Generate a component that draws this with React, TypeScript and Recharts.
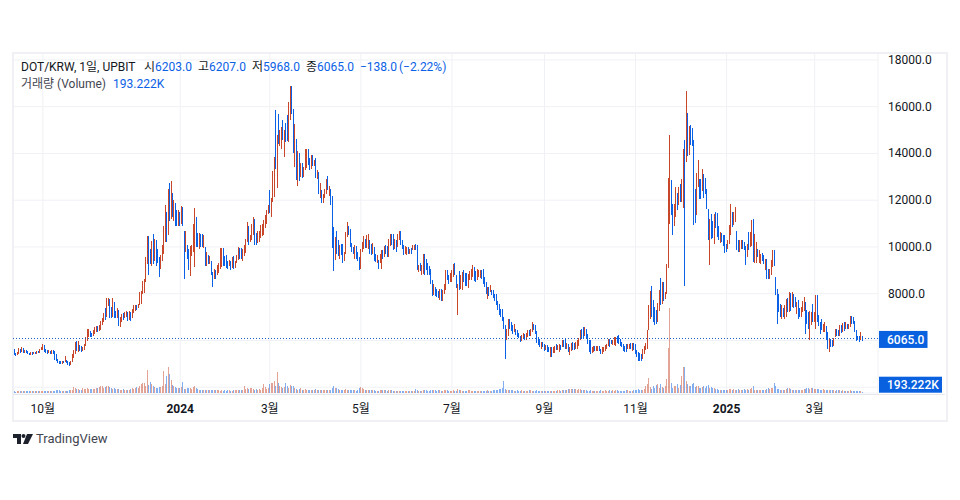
import React from "react";
import { ComposedChart, Bar, XAxis, YAxis, CartesianGrid, ReferenceLine } from "recharts";

const closes = [
5620,5430,5400,5450,5600,5520,5650,5500,5560,5500,
5440,5400,5460,5420,5480,5440,5520,5500,5560,5620,
5780,5620,5560,5480,5540,5460,5520,5500,5400,5200,
5110,5050,4990,5080,5060,5160,5120,5040,4990,5070,
5300,5480,5900,5650,5780,5620,5550,5600,5820,6040,
6260,6400,6330,6200,6360,6460,6530,6460,6560,6660,
6800,7100,7020,7500,7780,7380,7050,7680,7300,7150,
7340,6800,6820,7030,7020,7100,7140,7060,7150,6980,
7260,7400,7420,7380,7480,7600,8000,8090,8580,9350,
10300,9700,9400,10200,9500,10280,9800,9600,9300,9550,
9800,10400,11400,10700,12300,11500,12650,11420,11800,11100,
10950,11500,11150,11600,11070,9500,9900,9600,9100,9700,
9900,10800,11300,10200,10050,10200,10100,10050,10100,9400,
9600,9300,9500,8950,8800,9000,8800,9100,9200,9400,
9700,9500,9300,9250,9200,9300,9100,9300,9150,9200,
9500,9850,9700,9600,9700,9850,10000,10850,10300,10400,
10600,11100,10500,10200,10300,10500,10650,10700,10850,11100,
11500,11700,11500,11900,13100,13700,13400,14700,14500,14900,
15100,14600,14900,14800,14550,15900,16700,15750,14100,15200,
13600,13900,13000,13300,13050,13350,13700,14100,13800,13700,
13900,13500,13700,13000,13200,12350,12600,11950,12100,12300,
12800,12450,12500,11850,10050,9900,10300,9800,9700,9750,
9650,9400,9600,10400,10800,10700,10150,10050,9860,9990,
9600,9550,9100,9900,9950,10400,10100,10250,10500,10050,
9800,10000,9600,9450,9500,9350,9500,9750,9600,9980,
9900,9600,10300,10500,10350,10000,10200,10050,10300,10650,
10200,10050,9800,9900,9950,9800,9870,9830,9980,10050,
9900,9100,9200,9050,9200,9650,9400,9100,9050,8900,
8500,8000,8300,8150,8050,7900,8200,7950,8100,8400,
9000,8700,8650,8750,9000,9200,8900,8300,8400,8300,
8700,8900,8700,8550,8500,8800,8900,9000,9150,8700,
8650,8850,8950,9000,8680,8500,8350,8100,8200,8000,
8250,8000,7950,7900,7600,7450,7200,7100,7050,6650,
6300,6500,6850,6600,6580,6300,6600,6350,6250,6180,
6050,6150,6250,6150,6280,6350,6250,6420,6700,6500,
6400,6100,5950,5800,5900,5750,5680,5750,5650,5600,
5650,5500,5620,5720,5650,5700,5780,5700,5950,5800,
5700,5820,5550,5650,5780,5700,5650,5850,5950,6000,
6350,6250,6150,6450,6200,5950,5700,5500,5650,5720,
5600,5680,5720,5650,5500,5640,5700,5780,5800,6000,
5950,5850,5900,6050,6100,5950,5900,5800,5750,5700,
5600,5550,5720,5800,5780,5880,5650,5550,5400,5350,
5250,5200,5550,5700,5850,6300,7200,7750,7350,7150,
7000,6900,7400,8000,7600,8100,7950,8000,9280,12000,
12800,11400,11050,11800,12200,11700,12300,12000,12800,14100,
13700,15900,14000,15000,14600,14400,11700,11300,13100,13200,
12700,12500,13200,12800,12700,11700,10400,11100,10600,10500,
11350,10900,10600,10400,10500,10350,10150,10100,9900,10200,
10800,11700,11000,11400,11600,9900,9850,10000,10250,10000,
9900,9300,10050,10000,10550,11050,9400,9700,10100,9600,
9650,9700,9500,9350,9450,8800,8700,8900,9400,9800,
9200,8050,7800,7250,7100,7450,7100,7400,7700,7500,
8000,7400,8000,7600,7500,7600,7250,7100,7400,7600,
7800,7000,6900,6800,7050,7180,6900,7050,7850,6900,
6800,6700,6500,6600,6650,6100,5900,6050,5950,5800,
6000,6450,6350,6250,6600,6550,6700,6650,6750,6600,
6650,6950,6900,6750,6400,6100,6050,6000,6203,6065,
];

const highs = [
5660,5640,5470,5500,5680,5640,5720,5680,5600,5600,
5540,5480,5500,5520,5520,5500,5560,5560,5640,5700,
5830,5800,5640,5580,5590,5560,5580,5580,5540,5420,
5200,5130,5100,5120,5130,5320,5180,5120,5060,5130,
5420,5580,5950,5990,5980,5800,5750,5700,5860,6140,
6500,6500,6420,6330,6440,6570,6620,6620,6680,6820,
6950,7190,7400,7820,7830,7780,7420,7800,7640,7250,
7380,7320,7020,7120,7170,7230,7260,7220,7260,7220,
7340,7500,7520,7530,7560,8090,8130,8540,8620,9550,
10460,10470,9900,10240,10560,10360,10300,9900,9550,9650,
10100,10900,11800,11500,12470,12750,12800,12300,12000,11900,
11600,11560,11500,11750,11700,10700,10700,10080,9900,10050,
10100,11000,11680,11300,10600,10600,10550,10560,10500,10000,
9780,9640,9620,9400,8920,9060,9000,9220,9300,9950,
9950,9950,9600,9650,9400,9450,9400,9550,9600,9400,
9650,10000,9950,9950,9900,10100,10350,11060,10900,10500,
11000,11290,11200,10600,10700,10700,10950,11000,11150,11350,
11590,11800,12420,12100,13250,13850,15840,14770,15700,15000,
15130,15410,14990,15300,15630,16200,16870,16870,15915,15270,
14630,14100,14020,13600,13600,13420,14200,14200,14200,13800,
13950,13950,13720,13820,13300,13200,12720,12420,12250,12480,
12920,13020,12600,12490,12160,10850,10420,10700,10280,10100,
10130,10130,9800,10640,11060,10900,10780,10150,10000,10100,
10020,9800,9570,9900,10200,10450,10350,10500,10550,10280,
10130,10150,10000,9680,9650,9450,9700,9850,9850,10060,
10100,10060,10350,10560,10550,10560,10350,10280,10550,10700,
10700,10300,10070,10050,10000,10000,9920,9950,10070,10100,
10140,10100,9220,9300,9210,9700,9700,9500,9300,9200,
9070,8570,8420,8300,8220,8100,8220,8200,8150,8430,
9000,9000,8800,8900,9000,9280,9300,8780,8420,8970,
8800,8930,9000,8880,8900,8850,8950,9050,9210,9140,
8950,9060,9000,9000,9000,9070,8700,8500,8280,8300,
8360,8170,8150,8000,8000,7700,7570,7350,7350,7000,
6640,6500,6930,6930,6800,6640,6710,6500,6450,6300,
6210,6250,6300,6290,6300,6430,6430,6500,6790,6700,
6650,6420,6130,6050,5950,5950,5850,5800,5790,5700,
5720,5700,5710,5760,5830,5800,5830,5800,6000,6000,
6110,5900,5830,5720,5890,5930,5900,5950,6000,6100,
6430,6500,6570,6570,6500,6280,6000,6000,5720,5750,
5760,5780,5760,5750,5640,5700,5730,5800,5850,6050,
6070,6000,6000,6140,6140,6200,6240,6060,5950,5850,
5760,5860,5860,5860,5900,5900,5880,5860,5600,5500,
5450,5400,5640,5780,5900,6430,7500,8110,8310,7710,
7430,7300,7600,8140,8680,8500,8500,8070,9280,12950,
14770,12880,11820,11830,12560,12300,12560,12700,12920,14200,
14560,16660,15740,15160,15200,15100,14560,12460,13180,13700,
12920,12900,13320,13100,12960,12490,11640,11210,11420,11100,
11420,11500,11460,10900,10650,10600,10490,10490,10140,10300,
10920,11820,11490,11500,11700,10680,10280,10280,10300,10300,
10200,10060,10140,10640,10650,11140,11180,10560,10207,9920,
9852,9710,9720,9640,9500,9500,9060,9060,9450,9852,
9852,8710,8210,8000,7570,7500,7400,7500,7780,7800,
8070,8030,8070,8000,7850,7640,7710,7400,7430,7700,
7850,7640,7300,7200,7280,7210,7570,7200,7930,7930,
7100,6780,6930,6700,6780,6600,6350,6070,6070,6000,
6100,6500,6500,6430,6640,6650,6740,6780,6800,6700,
6700,7030,7030,7000,6850,6430,6200,6200,6360,6207,
];

const lows = [
5360,5390,5340,5380,5440,5470,5500,5460,5470,5480,
5400,5360,5390,5380,5400,5410,5440,5480,5480,5580,
5580,5520,5480,5420,5450,5420,5440,5440,5180,5130,
5030,4990,4980,4990,5040,5060,5020,4960,4910,4950,
5060,5230,5420,5560,5520,5540,5520,5530,5580,5780,
5970,6150,6160,6150,6170,6280,6380,6380,6410,6430,
6640,6780,6860,7000,7460,6960,6980,7020,6950,6980,
6980,6600,6590,6780,6880,6950,7000,6850,6880,6830,
6980,7170,7240,7300,7370,7520,7560,7970,8010,8490,
9250,8800,9280,9200,9250,9410,9200,9320,8700,9050,
9400,9700,10200,10200,10500,11100,11200,11300,11100,10900,
10900,10900,10900,11000,10900,8640,9780,9500,9000,8740,
9600,9800,9140,10000,10000,9900,10000,10000,9950,9200,
9200,9280,9270,8800,8280,8650,8650,8800,8900,9050,
9150,9200,9200,9100,9050,9170,9000,9100,9050,9080,
9300,9450,9500,9500,9400,9600,9750,10200,10100,10200,
10300,10500,10100,10100,10150,10200,10400,10450,10500,10800,
10990,11400,11450,11300,11920,12130,13350,12520,14420,14300,
14200,14560,13850,14500,14520,14500,15410,15700,14000,13420,
12850,12590,12820,13000,12950,12990,13300,13390,13500,13300,
13350,13480,13480,12950,12900,12280,12100,11880,11900,12080,
12280,12420,12200,11780,9950,8990,9450,9700,9600,9500,
9640,9310,9400,9700,10420,10500,10000,9800,9700,9500,
9500,9400,9000,9060,9800,9900,9950,9950,9930,9710,
9640,9700,9420,9350,9300,9070,9300,9060,9500,9570,
9700,9570,9570,10060,10100,9850,9900,9780,10000,10280,
10100,9900,9640,9700,9640,9700,9710,9700,9850,9850,
9850,9000,8920,8950,8780,8850,8780,9000,8800,8800,
8420,7900,7950,7900,7860,7800,7710,7700,7670,8000,
8140,8570,8400,8500,8500,8710,8800,8250,7070,8140,
8200,8140,8500,8350,8350,8250,8600,8570,8710,8560,
8500,8570,8700,8680,8640,8420,8300,8000,7780,7900,
8070,7930,7800,7700,7500,7300,7070,7000,6850,6500,
5210,6000,6210,6500,6400,6280,6350,6220,6150,6100,
5930,5990,6060,6000,6030,6150,6200,6200,6350,6450,
6290,5900,5800,5720,5640,5700,5570,5600,5500,5500,
5310,5300,5450,5450,5600,5600,5500,5600,5720,5700,
5650,5640,5500,5360,5570,5600,5600,5650,5640,5750,
6000,6050,6070,6200,6100,5860,5500,5430,5450,5500,
5550,5550,5570,5560,5430,5410,5500,5550,5620,5780,
5710,5830,5800,5800,5780,5900,5860,5780,5720,5570,
5500,5500,5650,5640,5650,5560,5600,5430,5300,5100,
5110,5130,5200,5430,5600,5640,6430,6930,7000,6780,
6640,6700,6800,7280,7500,7570,7700,7780,8000,9100,
10990,11350,10490,10900,11280,11600,11780,11920,11920,11660,
8350,13630,13870,13920,14370,14300,10920,11040,11380,12560,
12060,12060,12380,12100,12280,11630,10280,9210,10350,10400,
10140,10800,10420,10300,10150,10200,10060,9740,9780,9900,
10140,10490,10850,10950,11060,9850,9800,9800,9900,9920,
9850,9210,9560,9850,10000,10060,9350,9320,9310,9560,
9310,9280,9400,9280,9000,8640,8640,8640,8780,9130,
9170,7930,6710,7210,7000,6930,7000,6930,7000,7200,
7210,7260,7430,7400,7430,7140,6930,7000,7000,7200,
7280,6280,6700,6500,6000,6640,6780,6800,6500,6780,
6600,6280,6430,6350,6350,6000,5640,5500,5700,5700,
5750,6140,6200,6210,6210,6300,6350,6400,6500,6500,
6500,6570,6700,6720,6350,5970,6000,5930,6000,5968,
];

// volume in thousands
const volumes = [
260,280,220,300,260,280,300,240,260,300,
280,300,260,280,240,260,300,280,260,300,
340,280,260,300,240,260,280,240,320,420,
480,420,360,300,260,340,300,360,420,380,
520,900,700,560,620,480,520,760,640,600,
780,640,560,600,660,580,760,700,900,980,
1000,820,900,1040,1000,840,760,620,700,540,
620,540,500,480,560,520,500,480,520,560,
720,620,700,860,820,1040,1300,1480,1500,1100,
3500,1200,1700,1300,980,840,760,820,960,920,
1000,3300,1400,2500,3900,2900,2000,1240,1100,900,
760,800,700,880,1700,640,560,700,760,820,
600,900,1000,760,640,520,500,460,420,460,
420,440,500,460,520,420,400,440,480,360,
380,340,400,360,440,420,360,340,380,400,
460,380,420,500,460,1000,620,700,560,780,
820,640,520,620,520,620,460,780,1300,900,
640,700,1300,1450,1550,1750,1100,3100,1480,1000,
900,800,900,1500,1100,800,1250,1050,1100,720,
600,520,620,700,480,520,560,440,500,480,
460,420,500,540,420,500,420,460,380,420,
480,400,440,460,800,1000,800,700,600,500,
480,420,500,560,460,480,420,400,440,420,
360,380,800,900,700,620,480,440,420,380,
400,380,420,300,340,360,420,500,420,400,
380,360,420,400,380,340,320,340,360,300,
340,320,300,340,360,280,320,340,300,320,
560,380,340,300,320,480,380,400,340,300,
420,520,420,380,340,460,400,340,360,420,
440,380,340,300,360,420,360,340,540,420,
380,360,340,320,360,380,420,360,340,360,
340,360,320,340,360,320,340,360,380,320,
340,360,380,400,420,480,540,600,700,1800,
620,480,520,420,380,400,360,340,380,360,
340,380,360,300,320,340,380,420,360,340,
360,400,320,300,340,280,320,340,300,260,
340,300,320,360,340,420,380,360,420,400,
500,440,540,560,600,620,620,540,460,620,
640,500,420,380,400,360,340,380,340,360,
320,340,360,320,380,300,340,400,340,360,
420,360,380,340,460,400,340,320,360,300,
340,420,380,340,360,320,460,380,420,560,
480,420,520,620,1000,1300,2250,900,600,1000,
700,1200,1300,800,1400,900,700,1000,2100,6700,
12750,1500,800,1000,1100,1300,800,1200,2500,3900,
3900,1800,1300,1100,1000,1300,1500,900,1100,1000,
800,700,900,1000,800,1100,1200,800,900,700,
700,620,540,500,460,480,520,440,500,420,
540,620,480,560,520,500,600,460,420,520,
540,480,560,500,620,700,1050,520,480,400,
380,460,400,420,520,640,700,620,800,780,
1500,1100,620,540,460,420,400,500,620,760,
720,560,480,440,520,420,380,440,500,480,
540,640,700,760,660,700,760,640,620,600,
560,500,460,540,520,420,460,420,400,380,
420,360,400,380,420,340,380,360,340,320,
360,380,340,300,320,280,300,260,240,193.222,
];

const firstOpen = 5600;
const priceTicks = [4000, 6000, 8000, 10000, 12000, 14000, 16000, 18000];
const hiddenPriceTicks = [4000, 6000];
const timeTickIndex = [20, 112, 172, 233, 294, 356, 417, 478, 537];
const timeTickLabels = ["10월", "2024", "3월", "5월", "7월", "9월", "11월", "2025", "3월"];
const boldTimeLabels = ["2024", "2025"];
const lastPrice = 6065;
const lastVolume = 193.222;

const UP = "#c8472b";
const DOWN = "#0a61e6";
const TAG = "#0a61e0";
const FONT = 'Roboto, "Noto Sans CJK KR", sans-serif';
const INK = "#131722";
const XMAX = 579.4;
const PRICE_DOMAIN = [3752, 18297];
const VOL_DOMAIN = [0, 51000];

const data = closes.map((c, i) => {
  const h = highs[i];
  const l = lows[i];
  const prev = i === 0 ? firstOpen : closes[i - 1];
  const o = Math.min(h, Math.max(l, prev));
  return { i, o, h, l, c: Math.min(h, Math.max(l, c)), v: volumes[i] };
});

const Candle = (p: any) => {
  const { x, y, width, height, payload } = p;
  const { o, c } = payload;
  const col = c >= o ? UP : DOWN;
  const px = Math.round(x + width / 2 - 0.5);
  return <rect x={px} y={y} width={1} height={Math.max(1, height)} fill={col} shapeRendering="crispEdges" />;
};

const VolBar = (p: any) => {
  const { x, y, width, height, payload } = p;
  const col = payload.c >= payload.o ? UP : DOWN;
  const px = Math.round(x + width / 2 - 0.5);
  return <rect x={px} y={y} width={1} height={Math.max(1, height)} fill={col} fillOpacity={0.5} shapeRendering="crispEdges" />;
};

const PriceTick = (p: any) => {
  const { x, y, payload } = p;
  if (hiddenPriceTicks.includes(payload.value)) return null;
  return (
    <text x={x + 2} y={y + 4} fontFamily={FONT} fontSize={12} fill={INK}>
      {payload.value.toFixed(1)}
    </text>
  );
};

const TimeTick = (p: any) => {
  const { x, y, payload } = p;
  const label = timeTickLabels[timeTickIndex.indexOf(payload.value)];
  return (
    <text x={x} y={y + 12} textAnchor="middle" fontFamily={FONT} fontSize={12} fill={INK}
      fontWeight={boldTimeLabels.includes(label) ? 700 : 400}>
      {label}
    </text>
  );
};

const PriceTag = (p: any) => {
  const { viewBox } = p;
  const rx = viewBox.x + viewBox.width;
  return (
    <g>
      <rect x={rx + 1} y={viewBox.y - 8} width={48.5} height={17} fill={TAG} />
      <text x={rx + 9} y={viewBox.y + 5} fontFamily={FONT} fontSize={12} fontWeight={500} fill="#fff">
        {lastPrice.toFixed(1)}
      </text>
    </g>
  );
};

const VolumeTag = (p: any) => {
  const { viewBox } = p;
  const rx = viewBox.x + viewBox.width;
  return (
    <g>
      <rect x={rx + 1} y={viewBox.y - 15} width={63} height={16} fill={TAG} />
      <text x={rx + 9} y={viewBox.y - 3} fontFamily={FONT} fontSize={12} fontWeight={500} fill="#fff">
        {lastVolume.toFixed(3)}K
      </text>
    </g>
  );
};

const legendInk: React.CSSProperties = { position: "absolute", color: INK, whiteSpace: "pre" };
const legendBlue: React.CSSProperties = { position: "absolute", color: "#0a61e6", whiteSpace: "pre" };

export default function App() {
  return (
    <div style={{ position: "absolute", left: 0, top: 0, width: 960, height: 500, background: "#fff", overflow: "hidden", fontFamily: FONT, fontSize: 12 }}>
      <div style={{ position: "absolute", left: 12, top: 52, width: 932, height: 366, border: "2px solid #eef0f4" }} />
      <div style={{ position: "absolute", left: 13, top: 394, width: 932, height: 1, background: "#e6e8ee" }} />
      <ComposedChart
        width={960}
        height={500}
        data={data}
        margin={{ top: 53, right: 12, bottom: 78, left: 13 }}
        style={{ position: "absolute", left: 0, top: 0 }}
      >
        <CartesianGrid stroke="#f0f1f5" strokeWidth={1} />
        <XAxis dataKey="i" type="number" domain={[0, XMAX]} allowDataOverflow ticks={timeTickIndex} height={29}
          axisLine={false} tickLine={false} tick={<TimeTick />} interval={0} />
        <XAxis xAxisId="v" dataKey="i" type="number" domain={[0, XMAX]} allowDataOverflow hide />
        <YAxis orientation="right" domain={PRICE_DOMAIN} allowDataOverflow ticks={priceTicks} width={70}
          axisLine={false} tickLine={false} tick={<PriceTick />} interval={0} />
        <YAxis yAxisId="v" domain={VOL_DOMAIN} allowDataOverflow hide />
        <Bar xAxisId="v" yAxisId="v" dataKey="v" barSize={1} shape={<VolBar />} isAnimationActive={false} />
        <Bar dataKey={(d: any) => [d.l, d.h]} barSize={1} shape={<Candle />} isAnimationActive={false} />
        <ReferenceLine y={lastPrice} stroke="#1a5fc8" strokeWidth={1} strokeDasharray="1 2" shapeRendering="crispEdges" label={<PriceTag />} />
        <ReferenceLine xAxisId="v" yAxisId="v" y={lastVolume} stroke="none" label={<VolumeTag />} />
      </ComposedChart>

      <div style={{ position: "absolute", left: 0, top: 0, width: 960, height: 100, lineHeight: "14px" }}>
        <span style={{ ...legendInk, left: 21, top: 60 }}>DOT/KRW, 1일, UPBIT</span>
        <span style={{ ...legendInk, left: 144, top: 60 }}>시</span>
        <span style={{ ...legendBlue, left: 155, top: 60 }}>6203.0</span>
        <span style={{ ...legendInk, left: 198, top: 60 }}>고</span>
        <span style={{ ...legendBlue, left: 209, top: 60 }}>6207.0</span>
        <span style={{ ...legendInk, left: 252, top: 60 }}>저</span>
        <span style={{ ...legendBlue, left: 263, top: 60 }}>5968.0</span>
        <span style={{ ...legendInk, left: 306, top: 60 }}>종</span>
        <span style={{ ...legendBlue, left: 317, top: 60 }}>6065.0</span>
        <span style={{ ...legendBlue, left: 360, top: 60 }}>−138.0</span>
        <span style={{ ...legendBlue, left: 399, top: 60 }}>(−2.22%)</span>
        <span style={{ ...legendInk, left: 21, top: 77, color: "#434651" }}>거래량 (Volume)</span>
        <span style={{ ...legendBlue, left: 113, top: 77 }}>193.222K</span>
      </div>

      <svg width={24} height={14} style={{ position: "absolute", left: 12, top: 432 }}>
        <path d="M1 2 H9 V12 H5 V6 H1 Z" fill="#1e222d" />
        <circle cx={11.5} cy={4} r={2} fill="#1e222d" />
        <path d="M15 2 H21 L16 12 H11 Z" fill="#1e222d" />
      </svg>
      <span style={{ position: "absolute", left: 36, top: 431, fontSize: 13, lineHeight: "16px", color: "#434651", whiteSpace: "pre" }}>TradingView</span>
    </div>
  );
}
